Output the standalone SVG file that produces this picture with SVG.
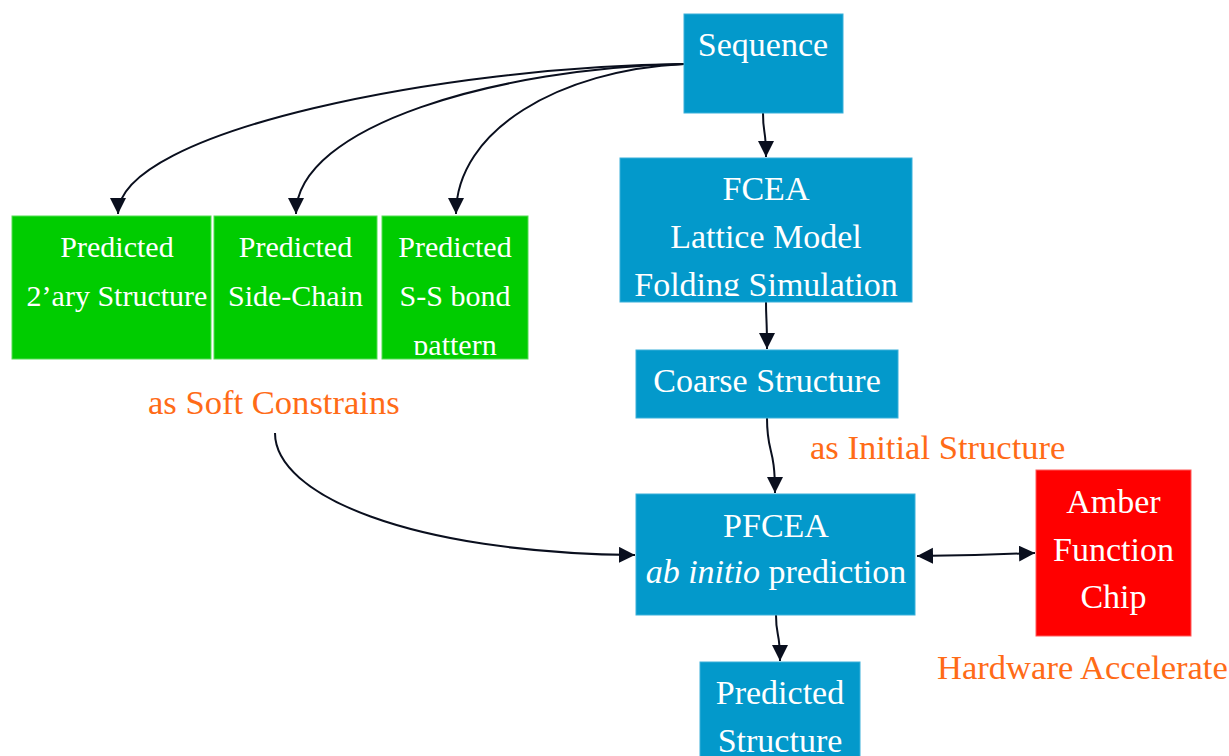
<svg xmlns="http://www.w3.org/2000/svg" width="1229" height="756" viewBox="0 0 1229 756">
  <style>
    .blue { fill: #0399cb; stroke: #3bb0da; stroke-width: 1; }
    .green { fill: #00cc00; stroke: #55dd55; stroke-width: 1; }
    .red { fill: #ff0000; stroke: #ff5a5a; stroke-width: 1; }
    .t { font-family: "Liberation Serif", "Times New Roman", serif; font-size: 34px; fill: #ffffff; text-anchor: middle; }
    .tg { font-family: "Liberation Serif", "Times New Roman", serif; font-size: 30px; fill: #ffffff; text-anchor: middle; }
    .lbl { font-family: "Liberation Serif", "Times New Roman", serif; font-size: 34.6px; fill: #ff6b17; }
    .conn { fill: none; stroke: #0a0f1e; stroke-width: 2; }
  </style>
  <defs>
    <marker id="ah" markerUnits="userSpaceOnUse" markerWidth="18" markerHeight="18" refX="16" refY="8" orient="auto-start-reverse">
      <path d="M0,0 L16,8 L0,16 z" fill="#0a0f1e"/>
    </marker>
    <clipPath id="clipFcea"><rect x="620" y="158" width="292" height="138"/></clipPath>
    <clipPath id="clipG1"><rect x="0" y="216" width="213" height="139"/></clipPath>
    <clipPath id="clipG2"><rect x="214" y="216" width="163" height="139"/></clipPath>
    <clipPath id="clipG3"><rect x="382" y="216" width="146" height="139"/></clipPath>
  </defs>

  <g id="connectors">
    <path class="conn" d="M684,64 C450,66 118,130 118,214" marker-end="url(#ah)"/>
    <path class="conn" d="M684,64 C500,68 296,125 296,214" marker-end="url(#ah)"/>
    <path class="conn" d="M684,64 C560,70 456,130 456,214" marker-end="url(#ah)"/>
    <path class="conn" d="M763,113 C763,135 766,128 766,157" marker-end="url(#ah)"/>
    <path class="conn" d="M766,302 C766,320 767,318 767,349" marker-end="url(#ah)"/>
    <path class="conn" d="M767,418 C767,455 775,445 775,493" marker-end="url(#ah)"/>
    <path class="conn" d="M275,433 C275,495 410,553 635,555" marker-end="url(#ah)"/>
    <path class="conn" d="M917,556 L975,555 L1035,553" marker-start="url(#ah)" marker-end="url(#ah)"/>
    <path class="conn" d="M776,615 C776,638 780,630 780,661" marker-end="url(#ah)"/>
  </g>

  <g id="sequence">
    <rect class="blue" x="684" y="14" width="159" height="99"/>
    <text class="t" x="763" y="56">Sequence</text>
  </g>

  <g id="fcea">
    <rect class="blue" x="620" y="158" width="292" height="144"/>
    <g clip-path="url(#clipFcea)">
      <text class="t" x="766" y="200">FCEA</text>
      <text class="t" x="766" y="248">Lattice Model</text>
      <text class="t" x="766" y="296">Folding Simulation</text>
    </g>
  </g>

  <g id="pred-2ary">
    <rect class="green" x="12" y="216" width="199" height="143"/>
    <g clip-path="url(#clipG1)">
      <text class="tg" x="117" y="257">Predicted</text>
      <text class="tg" x="117" y="306">2’ary Structure</text>
    </g>
  </g>

  <g id="pred-sidechain">
    <rect class="green" x="214" y="216" width="163" height="143"/>
    <g clip-path="url(#clipG2)">
      <text class="tg" x="295.5" y="257">Predicted</text>
      <text class="tg" x="295.5" y="306">Side-Chain</text>
    </g>
  </g>

  <g id="pred-ss">
    <rect class="green" x="382" y="216" width="146" height="143"/>
    <g clip-path="url(#clipG3)">
      <text class="tg" x="455" y="257">Predicted</text>
      <text class="tg" x="455" y="306">S-S bond</text>
      <text class="tg" x="455" y="355">pattern</text>
    </g>
  </g>

  <g id="coarse">
    <rect class="blue" x="636" y="350" width="262" height="68"/>
    <text class="t" x="767" y="392">Coarse Structure</text>
  </g>

  <g id="pfcea">
    <rect class="blue" x="636" y="494" width="279" height="121"/>
    <text class="t" x="776" y="537">PFCEA</text>
    <text class="t" x="776" y="583"><tspan font-style="italic">ab initio</tspan> prediction</text>
  </g>

  <g id="amber">
    <rect class="red" x="1036" y="470" width="155" height="166"/>
    <text class="t" x="1113.5" y="513">Amber</text>
    <text class="t" x="1113.5" y="561">Function</text>
    <text class="t" x="1113.5" y="608">Chip</text>
  </g>

  <g id="predicted-structure">
    <rect class="blue" x="700" y="662" width="160" height="110"/>
    <text class="t" x="780" y="704">Predicted</text>
    <text class="t" x="780" y="752">Structure</text>
  </g>

  <g id="labels">
    <text class="lbl" x="148" y="414">as Soft Constrains</text>
    <text class="lbl" x="810" y="459">as Initial Structure</text>
    <text class="lbl" x="937" y="679">Hardware Accelerate</text>
  </g>
</svg>
